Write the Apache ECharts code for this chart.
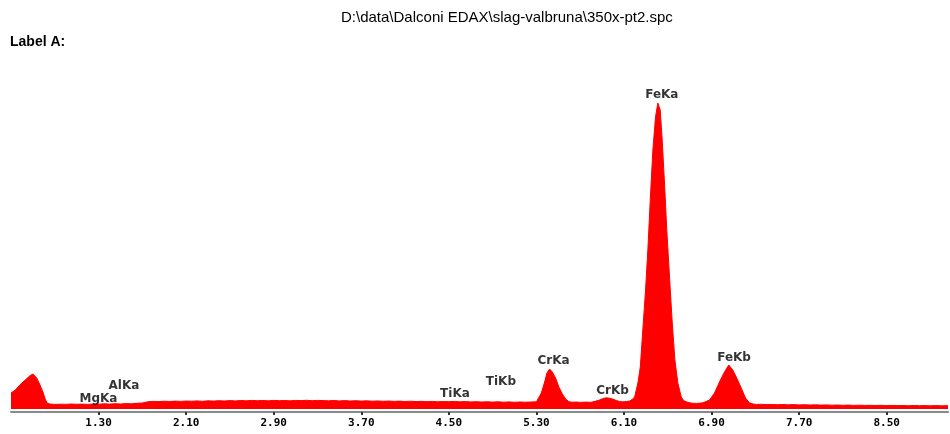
<!DOCTYPE html>
<html>
<head>
<meta charset="utf-8">
<script src="https://cdn.jsdelivr.net/npm/echarts@6/dist/echarts.min.js"></script>
<style>
  html, body { margin: 0; padding: 0; background: #fff; }
  #chart { width: 950px; height: 434px; }
</style>
</head>
<body>
<div id="chart"></div>
<script>
// EDAX spectrum, energies in keV, counts
var energies = [
  0.50, 0.54, 0.58, 0.63, 0.67, 0.70, 0.735, 0.765, 0.795, 0.815, 0.835, 0.86,
  0.90, 0.95, 1.00, 1.05, 1.10, 1.15, 1.20, 1.25, 1.30, 1.35, 1.40, 1.45, 1.50, 1.55, 1.60, 1.65, 1.70,
  1.75, 1.80, 1.85, 1.90, 1.95, 2.00, 2.05, 2.10, 2.15, 2.20, 2.25, 2.30, 2.35, 2.40, 2.45, 2.50,
  2.55, 2.60, 2.65, 2.70, 2.75, 2.80, 2.85, 2.90, 2.95, 3.00, 3.05, 3.10, 3.15, 3.20, 3.25, 3.30,
  3.35, 3.40, 3.45, 3.50, 3.55, 3.60, 3.65, 3.70, 3.75, 3.80, 3.85, 3.90, 3.95, 4.00, 4.05, 4.10,
  4.15, 4.20, 4.25, 4.30, 4.35, 4.40, 4.45, 4.50, 4.55, 4.60, 4.65, 4.70, 4.75, 4.80, 4.85, 4.90,
  4.95, 5.00, 5.05, 5.10, 5.15, 5.20, 5.25, 5.30,
  5.314, 5.345, 5.375, 5.396, 5.421, 5.445, 5.475, 5.505, 5.537, 5.567, 5.597, 5.63, 5.667, 5.70,
  5.75, 5.80, 5.84, 5.877, 5.91, 5.938, 5.965, 5.996, 6.03, 6.06, 6.087, 6.12, 6.151,
  6.175, 6.197, 6.227, 6.249, 6.272, 6.297, 6.318, 6.340, 6.364, 6.388, 6.409, 6.431, 6.449, 6.470,
  6.491, 6.516, 6.541, 6.565, 6.592, 6.623, 6.645, 6.668, 6.70, 6.726, 6.76, 6.79, 6.820, 6.85,
  6.881, 6.927, 6.972, 7.018, 7.057, 7.094, 7.130, 7.171, 7.210, 7.246, 7.28, 7.31,
  7.35, 7.40, 7.45, 7.50, 7.55, 7.60, 7.65, 7.70, 7.75, 7.80, 7.85, 7.90, 7.95, 8.00, 8.05, 8.10,
  8.15, 8.20, 8.25, 8.30, 8.35, 8.40, 8.45, 8.50, 8.55, 8.60, 8.65, 8.70, 8.75, 8.80, 8.85, 8.90,
  8.95, 9.00, 9.06
];
var counts = [
  160, 190, 240, 290, 330, 350, 310, 240, 160, 90, 55, 50,
  45, 48, 46, 50, 47, 49, 46, 50, 48, 52, 49, 53, 50, 54, 52, 57, 60,
  72, 76, 74, 78, 75, 79, 76, 80, 78, 81, 77, 82, 79, 83, 80, 84,
  81, 85, 82, 86, 83, 85, 82, 86, 83, 85, 82, 86, 84, 87, 83, 86,
  84, 82, 85, 81, 84, 80, 83, 79, 82, 78, 81, 77, 80, 76, 79, 75,
  78, 74, 77, 73, 76, 72, 75, 73, 76, 72, 74, 71, 73, 70, 72, 69,
  72, 68, 71, 67, 70, 68, 70, 72,
  100, 160, 270, 360, 400, 370, 310, 220, 150, 100, 72, 68, 70, 66,
  69, 67, 78, 90, 105, 112, 108, 100, 85, 75, 72, 74, 80,
  95, 120, 260, 420, 790, 1190, 1590, 2090, 2590, 2920, 3060, 2990, 2690, 2260,
  1790, 1320, 860, 490, 260, 120, 85, 72, 62, 58, 56, 58, 62, 75,
  90, 160, 270, 370, 440, 390, 310, 210, 110, 62, 50, 45,
  47, 44, 46, 43, 45, 42, 44, 41, 43, 40, 42, 39, 41, 38, 40, 37,
  39, 36, 38, 36, 37, 35, 37, 34, 36, 34, 35, 33, 35, 33, 34, 32,
  34, 32, 33
];

// element line labels
var lineNames = ['MgKa', 'AlKa', 'TiKa', 'TiKb', 'CrKa', 'CrKb', 'FeKa', 'FeKb'];
var lineEnergies = [1.253, 1.486, 4.51, 4.93, 5.41, 5.95, 6.40, 7.06];
var lineLabelCounts = [100, 233, 150, 270, 480, 180, 3140, 513];

var tickValues = [1.30, 2.10, 2.90, 3.70, 4.50, 5.30, 6.10, 6.90, 7.70, 8.50];

var spectrum = energies.map(function (e, i) { return [e, counts[i]]; });
var markers = lineNames.map(function (n, i) { return { name: n, value: [lineEnergies[i], lineLabelCounts[i]] }; });

var chart = echarts.init(document.getElementById('chart'), null, { renderer: 'canvas' });
chart.setOption({
  animation: false,
  backgroundColor: '#ffffff',
  title: [{
    text: 'D:\\data\\Dalconi EDAX\\slag-valbruna\\350x-pt2.spc',
    left: 341, top: 10, padding: 0,
    textStyle: { fontFamily: 'Liberation Sans', fontSize: 15, fontWeight: 'normal', color: '#000' }
  }, {
    text: 'Label A:',
    left: 10, top: 35, padding: 0,
    textStyle: { fontFamily: 'Liberation Sans', fontSize: 14, fontWeight: 'bold', color: '#000' }
  }],
  grid: { left: 11, right: 2, top: 60, bottom: 22 },
  xAxis: {
    type: 'value',
    min: 0.5, max: 9.06,
    splitLine: { show: false },
    axisLine: { onZero: false, lineStyle: { color: '#8a8a8a', width: 2 } },
    axisTick: { customValues: tickValues, length: 3, lineStyle: { color: '#333', width: 2 } },
    axisLabel: {
      customValues: tickValues,
      margin: 6,
      formatter: function (v) { return v.toFixed(2); },
      fontFamily: 'DejaVu Sans Mono', fontSize: 11, fontWeight: 'bold', color: '#000'
    }
  },
  yAxis: { type: 'value', min: -30, max: 3490, show: false, splitLine: { show: false } },
  series: [{
    type: 'line',
    data: spectrum,
    showSymbol: false,
    lineStyle: { color: '#ff0000', width: 1 },
    areaStyle: { color: '#ff0000', opacity: 1 },
    z: 2
  }, {
    type: 'scatter',
    data: markers,
    symbolSize: 1,
    itemStyle: { color: 'rgba(0,0,0,0)' },
    label: {
      show: true, position: 'inside', offset: [5, 0],
      formatter: function (p) { return p.name; },
      fontFamily: 'DejaVu Sans', fontSize: 12, fontWeight: 'bold', color: '#000'
    },
    z: 3
  }]
});
</script>
</body>
</html>
